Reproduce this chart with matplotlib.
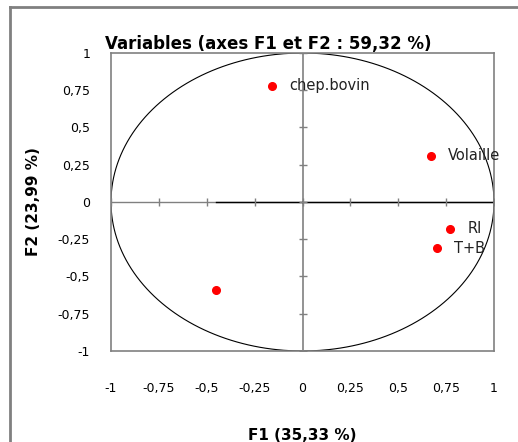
import numpy as np
import matplotlib.pyplot as plt
from matplotlib.lines import Line2D

# coordonnees des variables sur F1 / F2
noms = ["chep.bovin", "Volaille", "RI", "T+B", ""]
f1 = [-0.16, 0.67, 0.77, 0.70, -0.45]
f2 = [0.78, 0.31, -0.18, -0.31, -0.59]

ticks = [-1, -0.75, -0.5, -0.25, 0, 0.25, 0.5, 0.75, 1]
tick_labels = ["-1", "-0,75", "-0,5", "-0,25", "0", "0,25", "0,5", "0,75", "1"]

plt.rcParams["font.family"] = "DejaVu Sans"

fig = plt.figure(figsize=(5.18, 4.42), dpi=100)
ax = fig.add_axes([111 / 518, 1 - 351 / 442, 383 / 518, 298 / 442])

ax.set_xlim(-1, 1)
ax.set_ylim(-1, 1)

# cercle des correlations
t = np.linspace(0, 2 * np.pi, 400)
ax.plot(np.cos(t), np.sin(t), color="black", lw=0.8)

# axes au centre
ax.axhline(0, color="gray", lw=1)
ax.axvline(0, color="gray", lw=1.2)
ax.plot([-0.45, 1], [0, 0], color="black", lw=1)
ax.plot(ticks, [0] * len(ticks), ls="none", marker="|", ms=6, color="gray", mew=1)
ax.plot([0] * len(ticks), ticks, ls="none", marker="_", ms=6, color="gray", mew=1)

ax.plot(f1, f2, ls="none", marker="o", ms=5.5, color="red")
for x, y, n in zip(f1, f2, noms):
    if n:
        ax.text(x + 0.09, y, n, fontsize=10.5, va="center", ha="left", color="#222222")

for s in ax.spines.values():
    s.set_color("gray")
    s.set_linewidth(1.2)

ax.set_xticks(ticks)
ax.set_xticklabels(tick_labels, fontsize=9)
ax.set_yticks(ticks)
ax.set_yticklabels(tick_labels, fontsize=9)
ax.tick_params(length=0)
ax.tick_params(axis="y", pad=15)
ax.tick_params(axis="x", pad=22)

ax.set_title("Variables (axes F1 et F2 : 59,32 %)", fontsize=12, fontweight="bold",
             x=0.41, pad=1)
ax.set_xlabel("F1 (35,33 %)", fontsize=11, fontweight="bold", labelpad=24)
ax.set_ylabel("F2 (23,99 %)", fontsize=11, fontweight="bold", labelpad=12)

# bordure du graphique
fig.add_artist(Line2D([10 / 518, 10 / 518], [0, 1 - 7 / 442], color="gray", lw=2))
fig.add_artist(Line2D([10 / 518, 1], [1 - 7 / 442, 1 - 7 / 442], color="gray", lw=2))

fig.savefig("out.png", dpi=100)
